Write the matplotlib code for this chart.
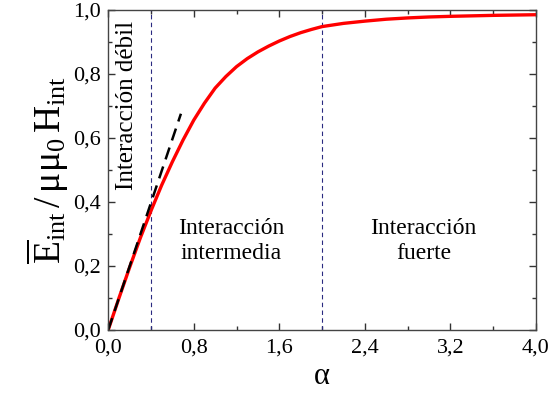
"""Interaction energy versus alpha with the three interaction regimes."""

import matplotlib.pyplot as plt
from matplotlib.ticker import MultipleLocator

plt.rcParams["font.family"] = ["Liberation Serif", "DejaVu Serif"]
plt.rcParams["mathtext.fontset"] = "custom"
plt.rcParams["mathtext.rm"] = "Liberation Serif"
plt.rcParams["mathtext.it"] = "Liberation Serif"
plt.rcParams["mathtext.bf"] = "Liberation Serif:bold"

# curve read at these alpha values
alpha = [0.0, 0.1, 0.2, 0.3, 0.4, 0.5, 0.6, 0.7, 0.8, 0.9, 1.0, 1.1,
         1.2, 1.3, 1.4, 1.5, 1.6, 1.7, 1.8, 1.9, 2.0, 2.2, 2.4, 2.6,
         2.8, 3.0, 3.2, 3.6, 4.0]
energy = [0.000, 0.099, 0.195, 0.287, 0.372, 0.452, 0.525, 0.593, 0.655,
          0.708, 0.755, 0.791, 0.822, 0.847, 0.868, 0.886, 0.902, 0.916,
          0.928, 0.938, 0.947, 0.957, 0.964, 0.970, 0.974, 0.977, 0.979,
          0.982, 0.984]

# low-alpha linear approximation
linear_alpha = [0.0, 0.68]
linear_energy = [0.0, 0.675]

# regime boundaries
boundaries = [0.4, 2.0]


def comma(x, pos):
    return ("%.1f" % x).replace(".", ",")


fig = plt.figure(figsize=(5.52, 4.0), dpi=100)
ax = fig.add_axes([0.196, 0.175, 0.775, 0.801])

for b in boundaries:
    ax.axvline(b, color="#2a2a80", lw=0.8, ls=(0, (4, 3)))

ax.plot(alpha, energy, color="red", lw=2.4, solid_capstyle="round",
        solid_joinstyle="round")
ax.plot(linear_alpha, linear_energy, color="black", lw=1.8, ls=(0, (5, 3)))

ax.set_xlim(0, 4.0)
ax.set_ylim(0, 1.0)
ax.xaxis.set_major_locator(MultipleLocator(0.8))
ax.xaxis.set_minor_locator(MultipleLocator(0.4))
ax.yaxis.set_major_locator(MultipleLocator(0.2))
ax.yaxis.set_minor_locator(MultipleLocator(0.1))
ax.xaxis.set_major_formatter(plt.FuncFormatter(comma))
ax.yaxis.set_major_formatter(plt.FuncFormatter(comma))
ax.tick_params(which="both", direction="in", top=True, right=True,
               labelsize=16, width=1, color="#333333")
ax.tick_params(which="major", length=5)
ax.tick_params(which="minor", length=3)
ax.tick_params(axis="x", pad=6)
ax.tick_params(axis="y", pad=5)
for s in ax.spines.values():
    s.set_color("#444444")
    s.set_linewidth(1.0)

ax.set_xlabel(r"$\alpha$", fontsize=22, labelpad=3)
ax.set_ylabel(r"$\overline{\mathrm{E}}_{\mathrm{int}}\,/\,\mu\mu_0\,\mathrm{H}_{\mathrm{int}}$",
              fontsize=27, labelpad=2)

ax.text(0.18, 0.70, "Interacción débil", rotation=90, fontsize=18,
        ha="center", va="center")
ax.text(1.15, 0.278, "Interacción\nintermedia", fontsize=17,
        ha="center", va="center", linespacing=1.2)
ax.text(2.95, 0.278, "Interacción\nfuerte", fontsize=17,
        ha="center", va="center", linespacing=1.2)

fig.savefig("out.png", dpi=100)
